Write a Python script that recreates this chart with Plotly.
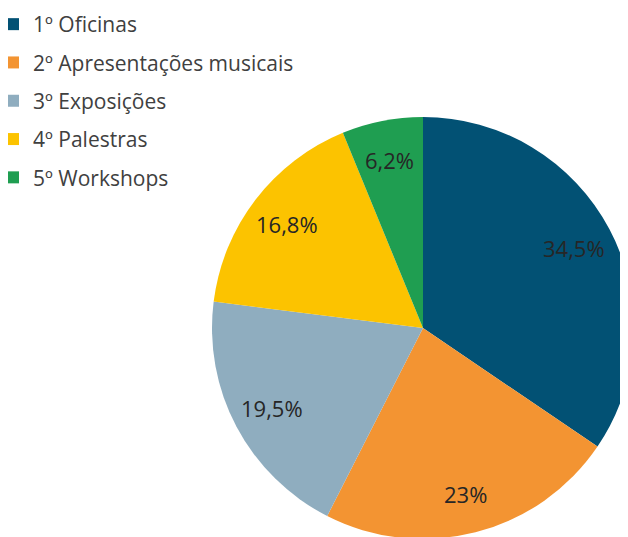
import math
import plotly.graph_objects as go

legend_labels = ["1º Oficinas", "2º Apresentações musicais", "3º Exposições",
                 "4º Palestras", "5º Workshops"]
values = [34.5, 23, 19.5, 16.8, 6.2]
value_text = ["34,5%", "23%", "19,5%", "16,8%", "6,2%"]
colors = ["#025174", "#F39432", "#8FADBF", "#FCC300", "#1F9E51"]

# figure size and pie placement (pixels); page is offset by the body margin
W, H = 640, 545
CX, CY, R = 415, 320, 211

fig = go.Figure()

fig.add_trace(go.Pie(
    labels=legend_labels, values=values, text=value_text,
    textinfo="none", hoverinfo="label+text",
    marker=dict(colors=colors, line=dict(width=0)),
    sort=False, direction="clockwise", rotation=0,
    showlegend=False,
    domain=dict(x=[(CX - R) / W, (CX + R) / W],
                y=[1 - (CY + R) / H, 1 - (CY - R) / H]),
))

# data labels placed along each slice bisector, like Excel "best fit"
total = sum(values)
cum = 0
for v, t in zip(values, value_text):
    mid = (cum + v / 2) / total * 2 * math.pi
    cum += v
    fig.add_annotation(
        x=(CX + 0.81 * R * math.sin(mid)) / W,
        y=1 - (CY - 0.81 * R * math.cos(mid)) / H,
        xref="paper", yref="paper", xanchor="center", yanchor="middle",
        text=t, showarrow=False,
        font=dict(family="Open Sans", size=22, color="#262626"),
    )

# legend entries as empty scatter traces so the row gap can be set
for lab, col in zip(legend_labels, colors):
    fig.add_trace(go.Scatter(
        x=[None], y=[None], mode="markers", name=lab, legendgroup=lab,
        marker=dict(symbol="square", size=11, color=col),
    ))

fig.update_xaxes(visible=False)
fig.update_yaxes(visible=False)
fig.update_layout(
    width=W, height=H,
    margin=dict(l=0, r=0, t=0, b=0, autoexpand=False),
    paper_bgcolor="white", plot_bgcolor="rgba(0,0,0,0)",
    font=dict(family="Open Sans", color="#404040"),
    legend=dict(x=-15 / W, y=1 + 4 / H, xanchor="left", yanchor="top",
                bgcolor="rgba(0,0,0,0)",
                font=dict(size=21, color="#404040"),
                tracegroupgap=8, itemsizing="constant"),
)

fig.write_html("out.html")
